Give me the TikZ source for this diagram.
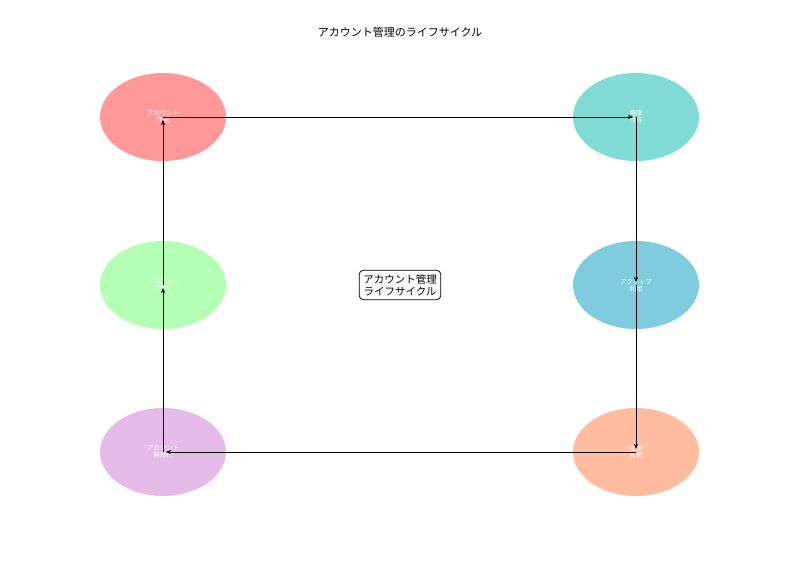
\documentclass[tikz,border=0pt]{standalone}
\usepackage{fontspec}
\setmainfont{Noto Sans CJK JP}
\usetikzlibrary{positioning, shapes.geometric, arrows.meta}
\definecolor{cCreate}{HTML}{FF9999}
\definecolor{cGrant}{HTML}{80DCD4}
\definecolor{cDelete}{HTML}{B3FFB3}
\definecolor{cActive}{HTML}{7FCCDE}
\definecolor{cDisable}{HTML}{E5BCE7}
\definecolor{cChange}{HTML}{FFBC9E}
\tikzstyle{phase} = [ellipse, minimum width=126pt, minimum height=88pt, text=white,
    font=\fontsize{6.5pt}{7pt}\selectfont, align=center, inner sep=0pt]
\tikzstyle{hub} = [rectangle, draw, thick, rounded corners=4pt, align=center,
    font=\fontsize{10.5pt}{12pt}\selectfont, inner sep=4pt, fill=white]
\tikzstyle{flow} = [->, >={Stealth[length=5pt,width=4pt]}, semithick, shorten >=3pt]

\begin{document}
\begin{tikzpicture}[x=1pt, y=-1pt]
            \useasboundingbox (0,0) rectangle (800,570);
            % Nodes
            \node [font=\fontsize{11pt}{13pt}\selectfont] (title) at (400,32) {アカウント管理のライフサイクル};
            \node [phase, fill=cCreate] (create) at (163,117) {アカウント\\作成};
            \node [phase, fill=cGrant] (grant) at (636,117) {権限\\付与};
            \node [phase, fill=cActive] (active) at (636,285) {アクティブ\\利用};
            \node [phase, fill=cChange] (change) at (636,452) {権限\\変更};
            \node [phase, fill=cDisable] (disable) at (163,452) {アカウント\\無効化};
            \node [phase, fill=cDelete] (delete) at (163,285) {アカウント\\削除};
            \node [hub] (cycle) at (400,285) {アカウント管理\\ライフサイクル};

            % Connections
            \draw[flow] (create.center) -- (grant.center);
            \draw[flow] (grant.center) -- (active.center);
            \draw[flow] (active.center) -- (change.center);
            \draw[flow] (change.center) -- (disable.center);
            \draw[flow] (disable.center) -- (delete.center);
            \draw[flow] (delete.center) -- (create.center);
        \end{tikzpicture}
\end{document}
